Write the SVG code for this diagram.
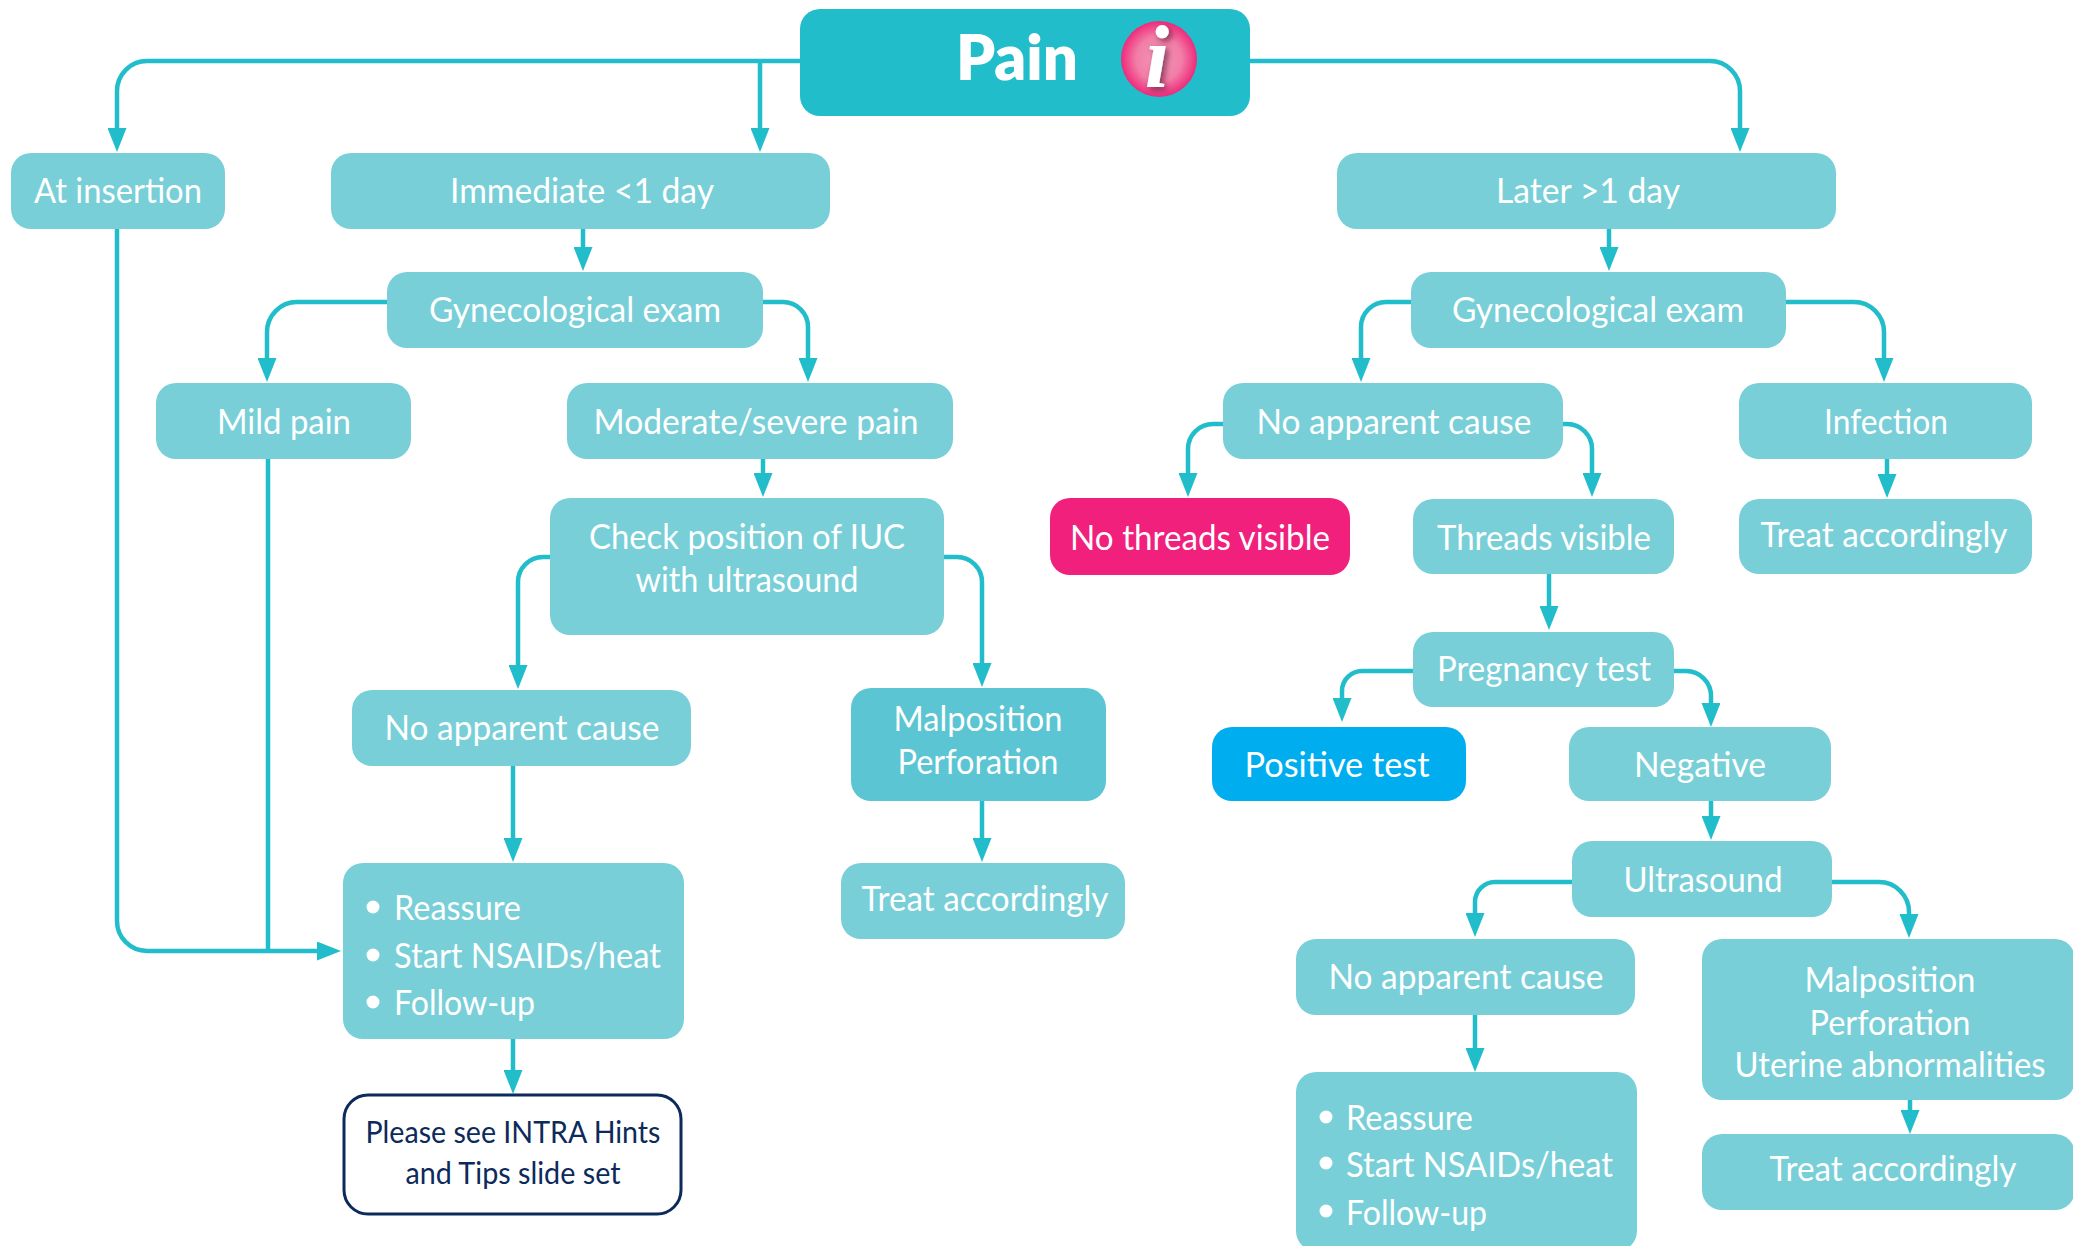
<svg xmlns="http://www.w3.org/2000/svg" width="2073" height="1246" viewBox="0 0 2073 1246">
<style>
.n{fill:#78cfd8}
.c{fill:none;stroke:#22bdca;stroke-width:4.5;marker-end:url(#a)}
.p{fill:none;stroke:#22bdca;stroke-width:4.5}
text{font-family:Lato,"Liberation Sans",sans-serif;font-size:35px;fill:#fff;text-anchor:middle}
.l{text-anchor:start}
</style>
<defs>
<marker id="a" markerUnits="userSpaceOnUse" markerWidth="24" markerHeight="19" refX="14" refY="9.5" orient="auto"><path d="M0 0L24 9.5L0 19Z" fill="#22bdca"/></marker>
<radialGradient id="g"><stop offset="0" stop-color="#f49ab8"/><stop offset=".6" stop-color="#f27da6"/><stop offset="1" stop-color="#ee2a7b"/></radialGradient>
<filter id="s" x="-50%" y="-50%" width="200%" height="200%"><feDropShadow dx="3" dy="3" stdDeviation="3" flood-color="#5a1030" flood-opacity=".7"/></filter>
</defs>
<g id="connectors">
<path class="c" d="M800 61H147A30 30 0 0 0 117 91V142"/>
<path class="c" d="M760 61V142"/>
<path class="c" d="M1250 61H1710A30 30 0 0 1 1740 91V142"/>
<path class="c" d="M583 229V261"/>
<path class="c" d="M1609 229V261"/>
<path class="c" d="M387 302H297A30 30 0 0 0 267 332V372"/>
<path class="c" d="M763 302H783A25 25 0 0 1 808 327V372"/>
<path class="c" d="M763 459V487"/>
<path class="c" d="M550 557H543A25 25 0 0 0 518 582V679"/>
<path class="c" d="M944 557H957A25 25 0 0 1 982 582V677"/>
<path class="c" d="M513 766V852"/>
<path class="c" d="M513 1039V1084"/>
<path class="c" d="M982 801V852"/>
<path class="p" d="M117 229V921A30 30 0 0 0 147 951H268"/>
<path class="p" d="M268 459V951"/>
<path class="c" d="M268 951H331"/>
<path class="c" d="M1411 302H1386A25 25 0 0 0 1361 327V372"/>
<path class="c" d="M1786 302H1854A30 30 0 0 1 1884 332V372"/>
<path class="c" d="M1223 424H1213A25 25 0 0 0 1188 449V487"/>
<path class="c" d="M1563 424H1567A25 25 0 0 1 1592 449V487"/>
<path class="c" d="M1887 459V488"/>
<path class="c" d="M1549 574V620"/>
<path class="c" d="M1413 671H1362A20 20 0 0 0 1342 691V712"/>
<path class="c" d="M1674 671H1686A25 25 0 0 1 1711 696V717"/>
<path class="c" d="M1711 801V830"/>
<path class="c" d="M1572 882H1495A20 20 0 0 0 1475 902V927"/>
<path class="c" d="M1832 882H1879A30 30 0 0 1 1909 912V928"/>
<path class="c" d="M1475 1015V1062"/>
<path class="c" d="M1910 1100V1124"/>
</g>
<g id="title"><rect x="800" y="9" width="450" height="107" rx="20" fill="#22bdca"/><text x="1017" y="80" style="font-size:62px;font-weight:800" textLength="122" lengthAdjust="spacingAndGlyphs">Pain</text>
<circle cx="1159" cy="59" r="38" fill="url(#g)"/><text x="1157" y="87" filter="url(#s)" style="font-family:'Liberation Serif',serif;font-size:88px;font-weight:700;font-style:italic">i</text></g>
<g id="at-insertion"><rect class="n" x="11" y="153" width="214" height="76" rx="20"/><text x="118" y="203" textLength="168" lengthAdjust="spacingAndGlyphs">At insertion</text></g>
<g id="immediate"><rect class="n" x="331" y="153" width="499" height="76" rx="20"/><text x="582" y="203" textLength="264" lengthAdjust="spacingAndGlyphs">Immediate &lt;1 day</text></g>
<g id="later"><rect class="n" x="1337" y="153" width="499" height="76" rx="20"/><text x="1588" y="203" textLength="184" lengthAdjust="spacingAndGlyphs">Later &gt;1 day</text></g>
<g id="gyn-left"><rect class="n" x="387" y="272" width="376" height="76" rx="20"/><text x="575" y="322" textLength="292" lengthAdjust="spacingAndGlyphs">Gynecological exam</text></g>
<g id="gyn-right"><rect class="n" x="1411" y="272" width="375" height="76" rx="20"/><text x="1598" y="322" textLength="292" lengthAdjust="spacingAndGlyphs">Gynecological exam</text></g>
<g id="mild"><rect class="n" x="156" y="383" width="255" height="76" rx="20"/><text x="284" y="434" textLength="134" lengthAdjust="spacingAndGlyphs">Mild pain</text></g>
<g id="moderate"><rect class="n" x="567" y="383" width="386" height="76" rx="20"/><text x="756" y="434" textLength="325" lengthAdjust="spacingAndGlyphs">Moderate/severe pain</text></g>
<g id="check"><rect class="n" x="550" y="498" width="394" height="137" rx="20"/><text x="747" y="549" textLength="316" lengthAdjust="spacingAndGlyphs">Check position of IUC</text><text x="747" y="592" textLength="223" lengthAdjust="spacingAndGlyphs">with ultrasound</text></g>
<g id="no-cause-left"><rect class="n" x="352" y="690" width="339" height="76" rx="20"/><text x="522" y="740" textLength="275" lengthAdjust="spacingAndGlyphs">No apparent cause</text></g>
<g id="malposition-left"><rect x="851" y="688" width="255" height="113" rx="20" fill="#5bc5d3"/><text x="978" y="731" textLength="169" lengthAdjust="spacingAndGlyphs">Malposition</text><text x="978" y="774" textLength="161" lengthAdjust="spacingAndGlyphs">Perforation</text></g>
<g id="treat-left"><rect class="n" x="841" y="863" width="284" height="76" rx="20"/><text x="985" y="911" textLength="247" lengthAdjust="spacingAndGlyphs">Treat accordingly</text></g>
<g id="reassure-left"><rect class="n" x="343" y="863" width="341" height="176" rx="20"/><circle cx="373" cy="907" r="6.5" fill="#fff"/><circle cx="373" cy="955" r="6.5" fill="#fff"/><circle cx="373" cy="1002" r="6.5" fill="#fff"/><text class="l" x="394" y="920" textLength="127" lengthAdjust="spacingAndGlyphs">Reassure</text><text class="l" x="394" y="968" textLength="267" lengthAdjust="spacingAndGlyphs">Start NSAIDs/heat</text><text class="l" x="394" y="1015" textLength="141" lengthAdjust="spacingAndGlyphs">Follow-up</text></g>
<g id="see-hints"><rect x="344" y="1095" width="337" height="119" rx="24" fill="#fff" stroke="#0c2a5a" stroke-width="3"/><text x="513" y="1143" style="font-size:30px;fill:#0c2a5a" textLength="295" lengthAdjust="spacingAndGlyphs">Please see INTRA Hints</text><text x="513" y="1184" style="font-size:30px;fill:#0c2a5a" textLength="215" lengthAdjust="spacingAndGlyphs">and Tips slide set</text></g>
<g id="no-cause-right"><rect class="n" x="1223" y="383" width="340" height="76" rx="20"/><text x="1394" y="434" textLength="275" lengthAdjust="spacingAndGlyphs">No apparent cause</text></g>
<g id="infection"><rect class="n" x="1739" y="383" width="293" height="76" rx="20"/><text x="1886" y="434" textLength="124" lengthAdjust="spacingAndGlyphs">Infection</text></g>
<g id="no-threads"><rect x="1050" y="498" width="300" height="77" rx="20" fill="#f0207c"/><text x="1200" y="550" textLength="260" lengthAdjust="spacingAndGlyphs">No threads visible</text></g>
<g id="threads"><rect class="n" x="1413" y="499" width="261" height="75" rx="20"/><text x="1544" y="550" textLength="214" lengthAdjust="spacingAndGlyphs">Threads visible</text></g>
<g id="treat-right"><rect class="n" x="1739" y="499" width="293" height="75" rx="20"/><text x="1884" y="547" textLength="247" lengthAdjust="spacingAndGlyphs">Treat accordingly</text></g>
<g id="pregnancy"><rect class="n" x="1413" y="632" width="261" height="75" rx="20"/><text x="1544" y="681" textLength="214" lengthAdjust="spacingAndGlyphs">Pregnancy test</text></g>
<g id="positive"><rect x="1212" y="727" width="254" height="74" rx="20" fill="#00aeef"/><text x="1337" y="777" textLength="185" lengthAdjust="spacingAndGlyphs">Positive test</text></g>
<g id="negative"><rect class="n" x="1569" y="727" width="262" height="74" rx="20"/><text x="1700" y="777" textLength="132" lengthAdjust="spacingAndGlyphs">Negative</text></g>
<g id="ultrasound"><rect class="n" x="1572" y="841" width="260" height="76" rx="20"/><text x="1703" y="892" textLength="159" lengthAdjust="spacingAndGlyphs">Ultrasound</text></g>
<g id="no-cause-bottom"><rect class="n" x="1296" y="939" width="339" height="76" rx="20"/><text x="1466" y="989" textLength="275" lengthAdjust="spacingAndGlyphs">No apparent cause</text></g>
<g id="reassure-right"><rect class="n" x="1296" y="1072" width="341" height="179" rx="20"/><circle cx="1326" cy="1117" r="6.5" fill="#fff"/><circle cx="1326" cy="1163" r="6.5" fill="#fff"/><circle cx="1326" cy="1211" r="6.5" fill="#fff"/><text class="l" x="1346" y="1130" textLength="127" lengthAdjust="spacingAndGlyphs">Reassure</text><text class="l" x="1346" y="1177" textLength="267" lengthAdjust="spacingAndGlyphs">Start NSAIDs/heat</text><text class="l" x="1346" y="1225" textLength="141" lengthAdjust="spacingAndGlyphs">Follow-up</text></g>
<g id="malposition-right"><rect class="n" x="1702" y="939" width="373" height="161" rx="20"/><text x="1890" y="992" textLength="171" lengthAdjust="spacingAndGlyphs">Malposition</text><text x="1890" y="1035" textLength="161" lengthAdjust="spacingAndGlyphs">Perforation</text><text x="1890" y="1077" textLength="311" lengthAdjust="spacingAndGlyphs">Uterine abnormalities</text></g>
<g id="treat-bottom"><rect class="n" x="1702" y="1134" width="373" height="76" rx="20"/><text x="1893" y="1181" textLength="247" lengthAdjust="spacingAndGlyphs">Treat accordingly</text></g>
</svg>
